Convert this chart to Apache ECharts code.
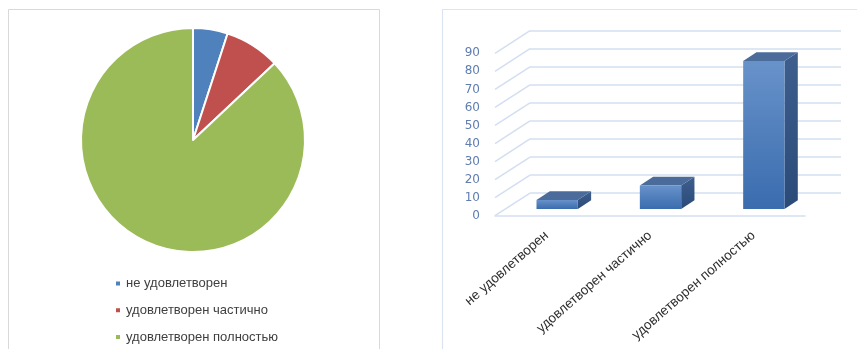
<!DOCTYPE html>
<html>
<head>
<meta charset="utf-8">
<script src="https://cdn.jsdelivr.net/npm/echarts@6/dist/echarts.min.js"></script>
<style>
  html, body { margin: 0; padding: 0; background: #ffffff; }
  #chart { width: 857px; height: 349px; }
</style>
</head>
<body>
<div id="chart"></div>
<script>
// Survey answers: share of respondents (pie) and counts (3D columns)
const pieCategories = ['не удовлетворен', 'удовлетворен частично', 'удовлетворен полностью'];
const pieValues = [5, 8, 87];
const pieColors = ['#4f81bd', '#c0504d', '#9bbb59'];

const barCategories = ['не удовлетворен', 'удовлетворен частично', 'удовлетворен полностью'];
const barValues = [5, 13, 82];

// Gridline values for the value axis (0..90 step 10)
const valueTicks = [0, 10, 20, 30, 40, 50, 60, 70, 80, 90];

// Oblique depth of the 3D box: horizontal and vertical offset of the back wall
const DEPTH_X = 35;
const DEPTH_Y = -22.6;
const BAR_FRONT = 0.3;   // fraction of depth where bar front faces sit
const BAR_DEPTH = 0.38;  // fraction of depth the bars occupy
const GRID_COLOR = '#d3dff0';
const FONT = '"Liberation Sans", Arial, sans-serif';

const chart = echarts.init(document.getElementById('chart'), null, { renderer: 'canvas' });

function renderWall(params, api) {
  const y = api.coord([0, api.value(1)])[1];
  const x0 = params.coordSys.x;
  return {
    type: 'line',
    shape: { x1: x0, y1: y, x2: x0 + DEPTH_X, y2: y + DEPTH_Y },
    style: { stroke: GRID_COLOR, lineWidth: 1.5 }
  };
}

function renderBar(params, api) {
  const idx = api.value(0);
  const base = api.coord([idx, 0]);
  const top = api.coord([idx, api.value(1)]);
  const band = api.size([1, 0])[0];
  const w = band * 0.4;
  const ox = DEPTH_X * BAR_FRONT, oy = DEPTH_Y * BAR_FRONT;
  const dx = DEPTH_X * BAR_DEPTH, dy = DEPTH_Y * BAR_DEPTH;
  const xl = base[0] + ox - w / 2;
  const xr = base[0] + ox + w / 2;
  const yb = base[1] + oy;
  const yt = top[1] + oy;
  return {
    type: 'group',
    children: [
      {
        type: 'polygon',
        shape: { points: [[xr, yt], [xr + dx, yt + dy], [xr + dx, yb + dy], [xr, yb]] },
        style: {
          fill: new echarts.graphic.LinearGradient(0, 0, 0, 1, [
            { offset: 0, color: '#3e5f8e' },
            { offset: 1, color: '#2a4a78' }
          ])
        }
      },
      {
        type: 'polygon',
        shape: { points: [[xl, yt], [xl + dx, yt + dy], [xr + dx, yt + dy], [xr, yt]] },
        style: { fill: '#4b6b9b' }
      },
      {
        type: 'rect',
        shape: { x: xl, y: yt, width: xr - xl, height: yb - yt },
        style: {
          fill: new echarts.graphic.LinearGradient(0, 0, 0, 1, [
            { offset: 0, color: '#6892ca' },
            { offset: 1, color: '#3a6cae' }
          ])
        }
      }
    ]
  };
}

const option = {
  backgroundColor: '#ffffff',
  animation: false,
  graphic: [
    {
      type: 'rect', silent: true, z: -10,
      shape: { x: 8.5, y: 9.5, width: 371, height: 400 },
      style: { fill: 'none', stroke: '#d9d9d9', lineWidth: 1 }
    },
    {
      type: 'rect', silent: true, z: -10,
      shape: { x: 442.5, y: 9.5, width: 500, height: 400 },
      style: { fill: 'none', stroke: '#dbe5f1', lineWidth: 1.2 }
    }
  ],
  legend: {
    orient: 'vertical',
    left: 114,
    top: 277,
    height: 72,
    padding: 0,
    itemWidth: 6,
    itemHeight: 6,
    itemGap: 13.8,
    icon: 'rect',
    data: pieCategories,
    textStyle: { fontFamily: FONT, fontSize: 13, color: '#404040' }
  },
  grid: [
    { left: 495, right: 52, top: 53.3, bottom: 133.3 },
    { left: 530, right: 16, top: 30.7, bottom: 156.3 }
  ],
  xAxis: [
    {
      gridIndex: 0, type: 'category', data: barCategories,
      axisLine: { lineStyle: { color: GRID_COLOR, width: 1.5 } },
      axisTick: { show: false },
      axisLabel: { interval: 0, rotate: 41, margin: 18, color: '#2e2e2e', fontFamily: FONT, fontSize: 13.5 }
    },
    {
      gridIndex: 1, type: 'category', data: barCategories,
      axisLine: { show: false }, axisTick: { show: false }, axisLabel: { show: false }
    }
  ],
  yAxis: [
    {
      gridIndex: 0, type: 'value', min: 0, max: 90, interval: 10,
      axisLine: { show: false }, axisTick: { show: false }, splitLine: { show: false },
      axisLabel: { margin: 15, color: '#5f7db0', fontFamily: '"DejaVu Sans", sans-serif', fontSize: 12 }
    },
    {
      gridIndex: 1, type: 'value', min: 0, max: 90, interval: 10,
      axisLine: { show: false }, axisTick: { show: false }, axisLabel: { show: false },
      splitLine: { lineStyle: { color: GRID_COLOR, width: 1.5 } }
    }
  ],
  series: [
    {
      type: 'pie',
      center: [193, 140],
      radius: 112,
      startAngle: 90,
      clockwise: true,
      label: { show: false },
      labelLine: { show: false },
      itemStyle: { borderColor: '#ffffff', borderWidth: 2 },
      data: pieCategories.map((name, i) => ({ name, value: pieValues[i], itemStyle: { color: pieColors[i] } }))
    },
    {
      type: 'custom',
      xAxisIndex: 0, yAxisIndex: 0,
      renderItem: renderWall,
      encode: { x: 0, y: 1 },
      data: valueTicks.map(v => [0, v]),
      silent: true, z: 1
    },
    {
      type: 'custom',
      xAxisIndex: 0, yAxisIndex: 0,
      renderItem: renderBar,
      encode: { x: 0, y: 1 },
      data: barValues.map((v, i) => [i, v]),
      z: 3
    }
  ]
};

chart.setOption(option);
</script>
</body>
</html>
